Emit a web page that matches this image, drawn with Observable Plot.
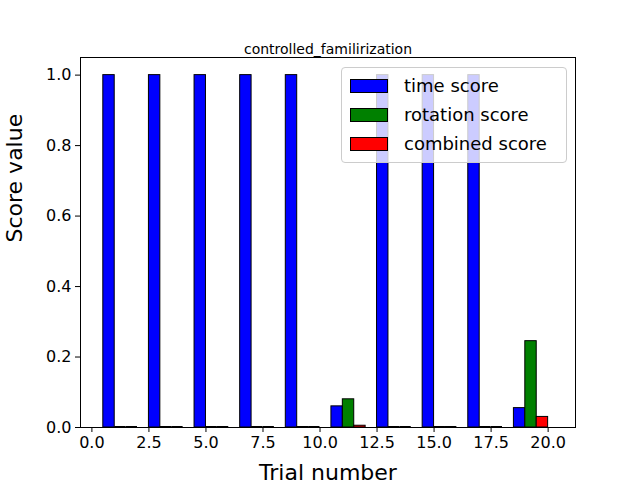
<!DOCTYPE html>
<html>
<head>
<meta charset="utf-8">
<script src="https://cdn.jsdelivr.net/npm/d3@7"></script>
<script src="https://cdn.jsdelivr.net/npm/@observablehq/plot@0.6"></script>
<style>
  body { margin: 0; font-family: "DejaVu Sans", sans-serif; background: #fff; }
  #wrap { position: relative; width: 640px; height: 480px; overflow: hidden; }
  #legend { position: absolute; left: 341px; top: 67px; width: 226px; padding: 3px 0 4px 8px;
    background: rgba(255,255,255,0.8); border: 1px solid #ccc; border-radius: 4px; font-size: 18px; box-sizing: border-box; }
  .item { display: flex; align-items: center; height: 29px; }
  .sw { width: 38px; height: 14px; border: 1px solid #000; margin-right: 16px; box-sizing: border-box; }
</style>
</head>
<body>
<div id="wrap">
  <div id="chart"></div>
  <div id="legend"></div>
</div>
<script>
var groups = [0, 1, 2, 3, 4, 5, 6, 7, 8, 9]
var time_score = [1, 1, 1, 1, 1, 0.06, 1, 1, 1, 0.055]
var rotation_score = [0, 0, 0, 0, 0, 0.08, 0, 0, 0, 0.245]
var combined_score = [0, 0, 0, 0, 0, 0.005, 0, 0, 0, 0.03]
var series = [
  {name: "time score", values: time_score, offset: 0.75, color: "blue"},
  {name: "rotation score", values: rotation_score, offset: 1.25, color: "green"},
  {name: "combined score", values: combined_score, offset: 1.75, color: "red"}
]

let bars = []
series.forEach(s => {
  groups.forEach((g, i) => bars.push({x: 2 * g + s.offset, y: s.values[i], color: s.color}))
})
let zeros = bars.filter(d => d.y == 0)

let xticks = [0, 2.5, 5, 7.5, 10, 12.5, 15, 17.5, 20]
let yticks = [0, 0.2, 0.4, 0.6, 0.8, 1.0]

let plot = Plot.plot({
  width: 640,
  height: 480,
  marginTop: 57,
  marginRight: 65,
  marginBottom: 53,
  marginLeft: 80,
  style: {fontSize: "16px", fontFamily: "DejaVu Sans, sans-serif", color: "#000"},
  x: {domain: [-0.5, 21.2], label: null},
  y: {domain: [0, 1.05], label: null},
  marks: [
    Plot.rectY(bars, {x1: d => d.x - 0.25, x2: d => d.x + 0.25, y1: 0, y2: "y", fill: "color", stroke: "black", strokeWidth: 1}),
    Plot.ruleY(zeros, {x1: d => d.x - 0.25, x2: d => d.x + 0.25, y: 0, y1: null, y2: null, stroke: "black", dy: -1}),
    Plot.frame({stroke: "black"}),
    Plot.axisX({ticks: xticks, tickFormat: d3.format(".1f"), fontSize: 16, tickSize: 5, label: null}),
    Plot.axisY({ticks: yticks, tickFormat: d3.format(".1f"), fontSize: 16, tickSize: 5, label: null}),
    Plot.text(["Trial number"], {frameAnchor: "bottom", dy: 52, fontSize: 22}),
    Plot.text(["Score value"], {frameAnchor: "left", dx: -66, rotate: -90, fontSize: 22}),
    Plot.text(["controlled_familirization"], {frameAnchor: "top", dy: -13, fontSize: 14})
  ]
})
document.getElementById("chart").append(plot)

let legend = document.getElementById("legend")
series.forEach(s => {
  let row = document.createElement("div")
  row.className = "item"
  row.innerHTML = `<div class="sw" style="background:${s.color}"></div><span>${s.name}</span>`
  legend.append(row)
})
</script>
</body>
</html>
